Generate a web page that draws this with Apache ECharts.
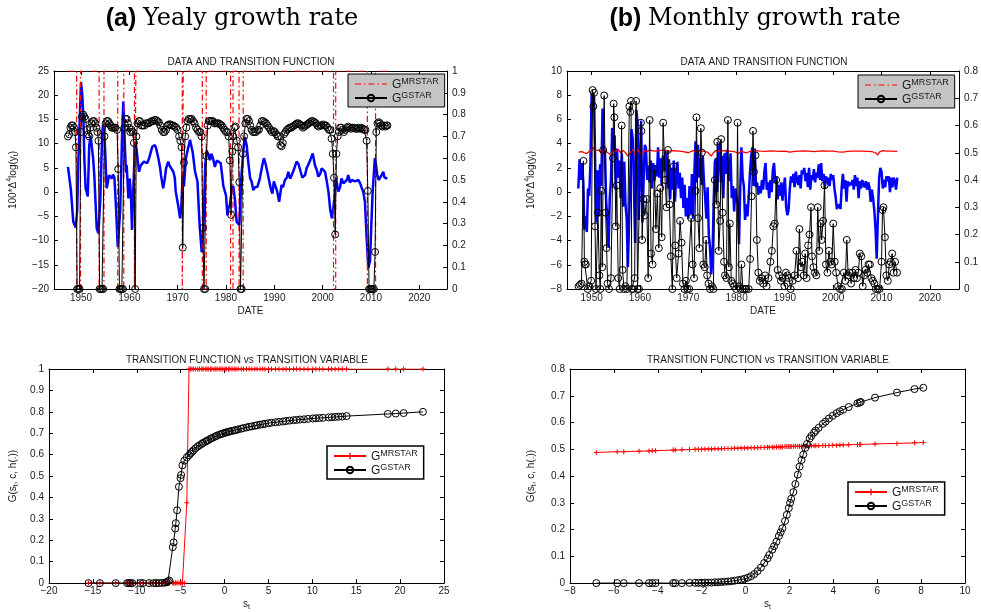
<!DOCTYPE html>
<html><head><meta charset="utf-8">
<script src="https://cdn.jsdelivr.net/npm/echarts@6/dist/echarts.min.js"></script>
<style>html,body{margin:0;padding:0;background:#fff}#c{width:981px;height:612px}</style>
</head><body><div id="c"></div>
<script>
// ---------------- DATA ----------------
const yearTicks = [1950,1960,1970,1980,1990,2000,2010,2020];

// (a) yearly growth: blue line (date, value)
const dateA = [1947.3,1947.5,1947.9,1948.4,1948.9,1949.2,1949.45,1949.7,1950.0,1950.25,1950.5,1950.7,1950.95,1951.2,1951.4,1951.7,1952.0,1952.2,1952.5,1952.75,1953.0,1953.25,1953.6,1954.0,1954.4,1954.6,1954.8,1955.05,1955.3,1955.55,1955.8,1956.1,1956.35,1956.6,1956.9,1957.25,1957.6,1957.9,1958.1,1958.3,1958.5,1958.75,1959.1,1959.3,1959.45,1959.8,1960.1,1960.35,1960.55,1960.8,1961.2,1961.5,1962.0,1962.35,1962.7,1963.0,1963.4,1963.7,1964.1,1964.75,1965.3,1965.6,1966.0,1966.3,1966.55,1967.0,1967.3,1967.6,1968.05,1968.3,1968.6,1969.1,1969.4,1969.6,1970.1,1970.5,1970.75,1971.05,1971.3,1971.7,1972.1,1972.55,1973.1,1973.6,1974.1,1974.5,1974.97,1975.3,1975.7,1976.0,1976.3,1976.7,1977.0,1977.35,1977.7,1978.1,1978.4,1978.9,1979.2,1979.45,1980.0,1980.3,1980.5,1980.8,1981.2,1981.5,1981.85,1982.2,1982.45,1982.75,1983.2,1983.6,1983.9,1984.3,1984.6,1985.0,1985.3,1985.65,1986.0,1986.5,1987.0,1987.5,1987.85,1988.2,1988.55,1989.0,1989.25,1989.6,1989.9,1990.3,1990.6,1991.0,1991.2,1991.5,1991.8,1992.2,1992.6,1992.9,1993.3,1993.6,1994.0,1994.6,1995.0,1995.45,1995.8,1996.35,1996.7,1997.0,1997.5,1997.95,1998.4,1998.8,1999.1,1999.5,1999.8,2000.2,2000.5,2000.8,2001.2,2001.55,2001.9,2002.2,2002.5,2002.75,2003.0,2003.25,2003.6,2003.9,2004.3,2004.6,2005.0,2005.3,2005.65,2006.0,2006.35,2006.7,2007.0,2007.4,2007.75,2008.1,2008.4,2008.75,2009.1,2009.45,2009.8,2010.1,2010.35,2010.8,2011.05,2011.3,2011.6,2011.85,2012.2,2012.55,2012.8,2013.05,2013.4];
const growthA = [5.2,5.6,0.5,-6.1,-7.3,-4.0,6.0,14.0,22.7,20.3,15.2,6.6,0.8,0.9,-0.9,9.7,11.5,11.8,7.0,3.5,-2.0,-7.5,-8.5,-1.3,12.5,14.1,12.8,7.3,0.8,2.0,3.5,3.2,2.8,3.6,3.1,-3.3,-11.3,-11.6,-4.0,3.5,12.0,18.7,9.0,4.0,5.6,-1.3,2.8,-1.3,-7.8,0.1,10.4,8.7,4.2,5.5,5.6,6.3,6.3,6.0,7.0,9.4,9.7,8.8,7.0,5.5,3.5,0.8,2.5,4.9,6.3,5.5,5.2,4.2,3.0,0.1,-2.7,-5.4,-3.0,3.5,1.2,7.0,8.8,10.8,8.3,4.2,2.2,-6.1,-12.4,-8.0,5.6,8.6,8.3,6.6,7.9,6.8,5.2,6.5,6.3,6.0,3.5,1.3,-0.7,-4.8,-3.4,-2.7,0.6,1.3,-1.5,-6.1,-6.5,-6.8,3.5,8.6,11.4,9.5,6.3,2.8,2.2,0.4,1.0,1.1,2.8,5.5,7.0,5.8,4.2,2.0,0.8,-0.3,2.2,1.0,0.1,-2.0,-2.3,1.5,1.0,2.5,3.0,4.2,2.8,3.5,4.5,6.3,5.8,4.2,3.0,3.5,5.0,5.6,6.8,8.0,5.6,4.5,3.2,3.8,4.9,4.5,4.2,2.5,0.1,-3.5,-5.4,-3.4,-0.5,2.8,1.5,0.1,1.0,2.8,1.8,1.5,2.5,3.5,2.0,2.5,2.8,2.2,2.0,2.5,1.8,2.2,0.0,-2.0,-9.5,-15.6,-14.2,-6.0,0.1,7.0,5.5,3.5,2.5,2.8,3.5,4.2,3.0,2.8,2.8];

// (a) G^MRSTAR (0/1 regime) transition points
const mrA_dates = [1947.3,1949.1,1949.1,1949.9,1949.9,1953.75,1953.75,1954.75,1954.75,1957.6,1957.6,1958.85,1958.85,1961.05,1961.05,1961.35,1961.35,1970.95,1970.95,1971.15,1971.15,1975.1,1975.1,1975.9,1975.9,1980.95,1980.95,1981.45,1981.45,1982.7,1982.7,1983.55,1983.55,2002.25,2002.25,2002.7,2002.7,2009.25,2009.25,2010.95,2010.95,2013.4];
const mrA_vals = [1,1,0,0,1,1,0,0,1,1,0,0,1,1,0,0,1,1,0,0,1,1,0,0,1,1,0,0,1,1,0,0,1,1,0,0,1,1,0,0,1,1];

// (a) G^GSTAR
const gA_dates = [1947.3,1947.55,1947.8,1948.05,1948.3,1948.55,1948.75,1948.95,1949.2,1949.45,1949.7,1949.95,1950.2,1950.45,1950.7,1950.95,1951.2,1951.45,1951.7,1951.95,1952.2,1952.45,1952.7,1952.95,1953.2,1953.4,1953.6,1953.85,1954.1,1954.35,1954.6,1954.85,1955.1,1955.35,1955.6,1955.85,1956.1,1956.35,1956.6,1956.85,1957.1,1957.45,1957.7,1957.95,1958.2,1958.45,1958.7,1958.95,1959.2,1959.45,1959.7,1959.95,1960.2,1960.45,1960.7,1960.95,1961.2,1961.45,1961.7,1961.95,1962.2,1962.5,1962.8,1963.1,1963.4,1963.7,1964.0,1964.3,1964.6,1964.9,1965.2,1965.5,1965.8,1966.1,1966.4,1966.7,1967.0,1967.3,1967.6,1967.9,1968.2,1968.5,1968.8,1969.1,1969.4,1969.7,1970.0,1970.3,1970.55,1970.8,1971.05,1971.3,1971.55,1971.8,1972.05,1972.3,1972.6,1972.9,1973.2,1973.5,1973.8,1974.1,1974.4,1974.7,1974.95,1975.2,1975.45,1975.7,1975.95,1976.2,1976.45,1976.7,1977.0,1977.3,1977.6,1977.9,1978.2,1978.5,1978.8,1979.1,1979.4,1979.7,1980.0,1980.3,1980.55,1980.8,1981.05,1981.3,1981.5,1981.75,1982.0,1982.25,1982.5,1982.75,1983.0,1983.25,1983.5,1983.75,1984.0,1984.25,1984.5,1984.75,1985.0,1985.3,1985.6,1985.9,1986.2,1986.5,1986.8,1987.1,1987.4,1987.7,1988.0,1988.3,1988.6,1988.9,1989.2,1989.5,1989.8,1990.1,1990.4,1990.7,1991.0,1991.25,1991.5,1991.75,1992.0,1992.3,1992.6,1992.9,1993.2,1993.5,1993.8,1994.1,1994.4,1994.7,1995.0,1995.3,1995.6,1995.9,1996.2,1996.5,1996.8,1997.1,1997.4,1997.7,1998.0,1998.3,1998.6,1998.9,1999.2,1999.5,1999.8,2000.1,2000.4,2000.7,2001.0,2001.3,2001.6,2001.85,2002.1,2002.35,2002.6,2002.85,2003.1,2003.35,2003.6,2003.85,2004.1,2004.4,2004.7,2005.0,2005.3,2005.6,2005.9,2006.2,2006.5,2006.8,2007.1,2007.4,2007.7,2008.0,2008.3,2008.6,2008.85,2009.1,2009.35,2009.6,2009.85,2010.1,2010.35,2010.6,2010.85,2011.1,2011.35,2011.6,2011.85,2012.1,2012.4,2012.7,2013.0,2013.25,2013.4];
const gA_vals = [0.70,0.71,0.74,0.75,0.75,0.74,0.72,0.65,0,0,0,0.72,0.79,0.80,0.79,0.78,0.73,0.71,0.70,0.74,0.76,0.77,0.77,0.76,0.74,0.72,0.68,0,0,0,0,0.70,0.76,0.77,0.77,0.76,0.75,0.74,0.74,0.74,0.74,0.73,0.55,0,0,0,0,0.74,0.78,0.78,0.76,0.74,0.72,0.73,0.72,0.67,0,0.70,0.76,0.77,0.77,0.75,0.75,0.75,0.76,0.76,0.76,0.765,0.77,0.77,0.775,0.775,0.77,0.765,0.75,0.73,0.72,0.72,0.73,0.75,0.755,0.755,0.75,0.75,0.745,0.74,0.73,0.70,0.68,0.65,0.19,0.58,0.70,0.74,0.77,0.78,0.78,0.78,0.77,0.76,0.74,0.73,0.72,0.72,0.70,0.28,0,0,0.61,0.75,0.77,0.77,0.77,0.77,0.76,0.76,0.76,0.76,0.755,0.75,0.74,0.73,0.72,0.72,0.70,0.59,0.34,0.63,0.70,0.74,0.745,0.68,0.65,0.49,0,0,0.62,0.70,0.76,0.78,0.78,0.77,0.75,0.73,0.72,0.72,0.72,0.73,0.73,0.75,0.77,0.77,0.765,0.76,0.75,0.74,0.73,0.72,0.725,0.72,0.71,0.70,0.70,0.66,0.655,0.67,0.71,0.72,0.73,0.735,0.74,0.74,0.745,0.75,0.755,0.76,0.76,0.755,0.75,0.74,0.745,0.75,0.755,0.76,0.765,0.77,0.77,0.765,0.76,0.75,0.745,0.75,0.75,0.755,0.75,0.75,0.74,0.73,0.73,0.69,0.62,0.51,0.25,0.62,0.70,0.72,0.74,0.74,0.73,0.72,0.73,0.74,0.745,0.74,0.735,0.74,0.74,0.735,0.735,0.74,0.735,0.74,0.735,0.73,0.73,0.68,0.45,0,0,0,0,0,0.17,0.72,0.76,0.765,0.76,0.75,0.745,0.75,0.745,0.75,0.75];

// (b) monthly growth: blue line, quarterly from 1947.25
const startB = 1947.25;
const growthB = [0.3,2.7,1.0,2.4, 0.9,-3.1,-2.0,-3.3, 0.3,-0.3,2.4,8.1, 7.5,7.9,2.0,-2.5, 1.8,-2.0,2.3,0.5, 6.9,3.2,3.5,-0.7, -2.3,-4.6,-0.5,1.0, 5.3,3.5,4.7,0.2, 3.6,1.2,2.6,-0.5, 3.2,-1.2,2.5,-1.0, -2.2,-6.2,-2.5,1.0, 5.2,4.4,0.5,-4.2, 6.8,5.8,-2.3,2.6, 5.9,-2.5,0.8,3.9, 3.6,1.0,2.2,0.8, 2.6,0.3,2.4,0.9, 2.2,1.3,3.7,1.2, 2.8,0.5,3.0,1.7, 3.5,2.0,0.3,2.7, -0.6,2.0,0.2,2.6, -0.8,1.4,2.5,0.3, 1.6,-0.5,1.2,-1.3, 0.6,-2.0,-0.5,-2.2, 0.5,-1.8,1.5,-2.2, 1.5,4.2,0.8,3.9, 1.2,2.8,0.6,3.0, 0.8,-0.5,-2.2,0.4, -3.5,-4.6,-6.8,-5.5, -1.0,2.5,2.8,0.0, 3.0,4.1,0.8,3.0, -0.5,3.2,1.5,3.5, 2.0,0.9,3.2,-0.5, 0.5,-1.6,0.3,0.4, -1.0,-4.3,0.2,3.7, 1.2,0.5,-2.3,-1.0, -2.0,-0.5,1.5,2.9, 3.7,0.5,3.6,0.4, 0.8,-0.2,0.5,-0.1, 1.0,0.2,1.7,2.4, 0.2,0.8,-0.5,1.0, 0.0,1.8,2.4,0.8, 1.3,-0.6,0.6,-0.3, 0.8,-0.7,0.4,1.2, -1.2,-1.9,-1.5,0.2, 1.3,0.8,1.5,0.4, 1.7,1.0,0.6,1.4, 0.3,1.8,1.5,2.0, 0.9,1.6,0.4,2.0, 0.2,1.4,1.0,1.9, 0.8,1.6,1.2,2.3, 1.0,2.4,0.9,1.5, 0.3,1.3,0.8,1.2, 0.5,1.5,1.0,1.4, 0.3,-0.4,-1.4,-1.4, -1.0,-1.4,0.4,1.5, 0.3,1.0,-0.8,0.9, 0.5,0.8,0.6,1.0, 0.2,1.4,0.5,1.2, -0.5,0.9,0.3,1.0, 0.6,0.4,0.9,0.2, 0.8,0.4,-0.8,0.2, -0.5,-1.5,-3.0,-5.5, -2.0,1.2,2.0,1.7, 0.3,1.0,0.4,1.3, 0.9,1.3,0.0,1.2, 0.4,1.2,0.9,0.2, 1.2];

// (b) G^MRSTAR
const mrB_dates = [1947.3,1948.0,1948.5,1949.0,1949.5,1950.0,1950.3,1950.6,1951.0,1951.5,1952.0,1952.5,1953.0,1953.5,1954.0,1954.5,1955.0,1955.5,1956.0,1956.5,1957.0,1957.5,1958.0,1958.5,1959.0,1959.5,1960.0,1960.5,1961.0,1961.5,1962.0,1963.0,1964.0,1965.0,1966.0,1967.0,1968.0,1969.0,1970.0,1971.0,1971.5,1972.0,1973.0,1974.0,1974.75,1975.2,1975.7,1976.5,1977.5,1978.5,1979.5,1980.5,1981.0,1981.5,1982.0,1983.0,1984.0,1985.0,1986.0,1987.0,1988.0,1989.0,1990.0,1991.0,1992.0,1993.0,1994.0,1995.0,1996.0,1997.0,1998.0,1999.0,2000.0,2001.0,2002.0,2003.0,2004.0,2005.0,2006.0,2007.0,2008.0,2008.75,2009.2,2009.6,2010.3,2011.0,2012.0,2013.25];
const mrB_vals = [0.502,0.504,0.500,0.497,0.505,0.512,0.520,0.508,0.502,0.510,0.498,0.512,0.505,0.498,0.492,0.510,0.505,0.512,0.500,0.508,0.500,0.488,0.500,0.512,0.495,0.512,0.500,0.496,0.508,0.505,0.510,0.506,0.508,0.510,0.506,0.508,0.506,0.504,0.500,0.508,0.502,0.508,0.506,0.502,0.488,0.500,0.508,0.506,0.508,0.506,0.504,0.498,0.507,0.502,0.500,0.506,0.508,0.506,0.505,0.507,0.506,0.505,0.506,0.502,0.505,0.506,0.507,0.506,0.504,0.506,0.507,0.506,0.506,0.503,0.502,0.505,0.506,0.506,0.506,0.505,0.504,0.500,0.492,0.503,0.508,0.506,0.506,0.505];

// (b) G^GSTAR
const gB_dates = [1947.3,1947.6,1947.9,1948.3,1948.5,1948.6,1948.8,1949.2,1949.5,1949.9,1950.2,1950.35,1950.5,1950.7,1950.9,1951.3,1951.6,1951.8,1952.0,1952.2,1952.4,1952.6,1952.9,1953.1,1953.3,1953.6,1954.0,1954.4,1954.55,1954.7,1955.0,1955.2,1955.5,1955.8,1956.2,1956.4,1956.7,1957.0,1957.3,1957.8,1958.0,1958.15,1958.3,1958.6,1958.9,1959.2,1959.5,1959.8,1960.2,1960.3,1960.45,1960.7,1961.0,1961.4,1961.7,1962.0,1962.3,1962.6,1963.0,1963.3,1963.6,1963.9,1964.2,1964.5,1964.8,1965.2,1965.5,1965.8,1966.1,1966.4,1966.7,1967.0,1967.3,1967.6,1968.0,1968.3,1968.6,1968.9,1969.2,1969.5,1969.8,1970.2,1970.6,1970.9,1971.2,1971.5,1971.7,1972.0,1972.3,1972.6,1972.8,1973.1,1973.4,1973.7,1973.9,1974.2,1974.5,1974.9,1975.2,1975.5,1975.8,1976.0,1976.3,1976.6,1976.8,1977.1,1977.4,1977.6,1977.9,1978.2,1978.4,1978.6,1978.9,1979.2,1979.5,1979.9,1980.2,1980.5,1980.8,1981.0,1981.3,1981.7,1982.0,1982.5,1982.8,1983.1,1983.4,1983.6,1983.9,1984.2,1984.5,1984.8,1985.1,1985.5,1985.9,1986.2,1986.6,1987.0,1987.3,1987.6,1987.9,1988.2,1988.5,1988.8,1989.2,1989.5,1989.9,1990.2,1990.5,1990.8,1991.2,1991.6,1992.0,1992.4,1992.7,1993.0,1993.3,1993.6,1993.9,1994.2,1994.5,1994.8,1995.1,1995.4,1995.6,1995.9,1996.2,1996.5,1996.8,1997.1,1997.4,1997.6,1997.9,1998.2,1998.5,1998.8,1999.1,1999.4,1999.7,2000.0,2000.3,2000.6,2001.0,2001.4,2001.8,2002.2,2002.5,2002.8,2003.1,2003.4,2003.7,2004.0,2004.3,2004.6,2004.9,2005.2,2005.5,2005.8,2006.1,2006.4,2006.7,2007.0,2007.3,2007.6,2007.9,2008.2,2008.5,2008.8,2009.2,2009.6,2010.0,2010.2,2010.4,2010.7,2011.0,2011.3,2011.6,2011.9,2012.2,2012.5,2012.8,2013.2];
const gB_vals = [0.01,0.015,0.02,0.47,0.10,0.09,0.09,0,0.01,0.03,0.73,0.67,0.72,0.23,0,0.28,0.05,0,0.36,0.08,0.51,0.71,0.28,0.15,0.02,0,0.04,0.48,0.68,0.63,0.23,0.38,0.04,0,0.60,0.07,0,0.01,0,0.67,0.65,0.69,0,0,0.04,0.69,0,0,0.61,0.58,0.18,0.33,0.27,0.33,0.04,0.62,0.13,0.09,0.44,0.22,0.35,0.15,0.37,0.19,0.61,0.40,0.30,0.51,0.31,0.12,0,0.45,0.16,0.04,0.13,0.25,0.17,0.02,0,0.03,0,0,0.26,0.09,0.04,0.36,0.63,0.26,0.15,0.59,0.50,0.09,0.08,0.18,0.05,0.02,0,0.01,0,0.40,0.31,0.54,0.14,0.25,0.55,0.28,0.10,0.05,0.04,0.62,0.08,0.24,0.03,0.02,0.01,0,0.61,0.01,0,0.09,0,0,0,0,0.11,0.34,0.58,0.43,0.49,0.18,0.06,0.03,0.04,0.02,0.05,0.01,0.04,0.10,0.14,0.23,0.24,0.40,0.07,0.05,0.03,0.04,0.01,0.06,0.05,0.04,0,0.03,0.05,0.14,0.04,0.22,0.08,0.10,0.05,0.13,0.04,0.16,0.20,0.30,0.12,0.08,0.06,0.05,0.30,0.14,0.24,0.18,0.25,0.38,0.09,0.06,0.14,0.10,0.09,0.24,0.10,0.06,0.01,0,0,0.06,0.03,0.18,0.05,0.06,0.02,0.06,0.04,0.07,0.04,0.06,0.13,0.12,0.01,0.05,0.07,0.06,0.09,0.09,0.04,0.03,0.02,0,0,0,0.10,0.29,0.30,0.19,0.05,0.03,0.09,0.10,0.13,0.06,0.10,0.06];

// bottom-left: transition function vs transition variable (yearly)
const sL = [-15.5,-14.2,-12.4,-11.1,-10.9,-10.7,-10.5,-9.6,-9.3,-8.6,-8.1,-7.8,-7.5,-7.1,-6.8,-6.6,-6.45,-6.3,-5.9,-5.8,-5.62,-5.55,-5.4,-5.2,-5.02,-4.95,-4.8,-4.58,-4.3,-4.05,-3.9,-3.72,-3.55,-3.3,-3.05,-2.85,-2.6,-2.45,-2.2,-2.0,-1.85,-1.6,-1.45,-1.2,-1.0,-0.85,-0.6,-0.4,-0.2,0.05,0.2,0.45,0.6,0.85,1.1,1.3,1.55,1.9,2.15,2.5,2.8,3.1,3.45,3.7,4.05,4.35,4.6,5.0,5.35,5.8,6.2,6.65,7.0,7.4,7.85,8.2,8.6,9.05,9.5,10.05,10.4,10.8,11.2,11.85,12.2,12.6,13.0,13.4,13.9,18.6,19.5,20.4,22.6];
const gL = [0,0,0,0,0,0,0,0,0,0,0,0,0,0.001,0.002,0.004,0.008,0.012,0.168,0.19,0.255,0.28,0.34,0.45,0.49,0.505,0.55,0.572,0.587,0.597,0.605,0.613,0.62,0.63,0.638,0.644,0.65,0.655,0.66,0.665,0.668,0.674,0.677,0.682,0.686,0.689,0.693,0.696,0.699,0.702,0.704,0.707,0.708,0.711,0.713,0.715,0.718,0.721,0.724,0.727,0.73,0.732,0.735,0.737,0.74,0.742,0.744,0.747,0.749,0.751,0.753,0.755,0.757,0.759,0.761,0.762,0.764,0.765,0.767,0.769,0.77,0.771,0.772,0.774,0.775,0.776,0.777,0.778,0.78,0.79,0.792,0.794,0.80];
const mrL = [0,0,0,0,0,0,0,0,0,0,0,0,0,0,0,0,0,0,0,0,0,0,0,0,0,0,0,0,0.375,1,1,1,1,1,1,1,1,1,1,1,1,1,1,1,1,1,1,1,1,1,1,1,1,1,1,1,1,1,1,1,1,1,1,1,1,1,1,1,1,1,1,1,1,1,1,1,1,1,1,1,1,1,1,1,1,1,1,1,1,1,1,1,1];

// bottom-right: transition function vs transition variable (monthly)
const sR = [-6.8,-5.85,-5.55,-4.85,-4.4,-4.25,-4.1,-3.3,-3.2,-2.9,-2.55,-2.3,-2.15,-2.0,-1.85,-1.7,-1.55,-1.4,-1.25,-1.1,-0.95,-0.8,-0.65,-0.5,-0.35,-0.2,-0.05,0.1,0.25,0.4,0.55,0.7,0.85,1.0,1.08,1.22,1.3,1.41,1.52,1.6,1.68,1.8,1.88,1.97,2.03,2.08,2.18,2.27,2.38,2.46,2.55,2.63,2.72,2.8,2.92,3.0,3.12,3.2,3.33,3.52,3.64,3.8,3.97,4.15,4.3,4.45,4.7,5.1,5.2,5.25,5.9,6.9,7.7,8.1];
const gR = [0,0,0,0,0,0,0,0,0,0,0.001,0.001,0.001,0.001,0.002,0.002,0.002,0.003,0.003,0.004,0.005,0.006,0.007,0.009,0.011,0.013,0.016,0.02,0.026,0.034,0.045,0.058,0.075,0.092,0.105,0.125,0.138,0.155,0.176,0.19,0.205,0.232,0.255,0.28,0.30,0.315,0.34,0.37,0.405,0.435,0.46,0.48,0.505,0.52,0.54,0.55,0.562,0.57,0.58,0.595,0.603,0.615,0.625,0.635,0.642,0.648,0.658,0.672,0.675,0.677,0.693,0.712,0.725,0.73];
const mrR = [0.488,0.491,0.491,0.493,0.494,0.495,0.495,0.497,0.497,0.498,0.499,0.500,0.500,0.500,0.501,0.501,0.501,0.502,0.502,0.502,0.503,0.503,0.503,0.504,0.504,0.505,0.505,0.505,0.506,0.506,0.506,0.507,0.507,0.508,0.508,0.508,0.508,0.509,0.509,0.509,0.509,0.510,0.510,0.510,0.510,0.510,0.511,0.511,0.511,0.511,0.511,0.512,0.512,0.512,0.512,0.513,0.513,0.513,0.513,0.514,0.514,0.514,0.515,0.515,0.516,0.516,0.517,0.518,0.518,0.518,0.520,0.522,0.524,0.525];

// ---------------- CHART ----------------
const FONT = '"Liberation Sans", Arial, Helvetica, sans-serif';
const TXT = '#1a1a1a';
const zip = (a, b) => a.map((v, i) => [v, b[i]]);
const datesB = growthB.map((_, i) => startB + i * 0.25);
const fmt = v => { const r = Math.round(v * 1000) / 1000; return r < 0 ? '\u2212' + (-r) : String(r); };
const PLUS = 'path://M4,0H6V4H10V6H6V10H4V6H0V4H4Z';

function axis(o) {
  const a = {
    type: 'value', gridIndex: o.g, position: o.pos, min: o.min, max: o.max,
    axisLine: { show: true, onZero: false, lineStyle: { color: '#000', width: 1 } },
    axisTick: { show: true, inside: true, length: 4, lineStyle: { color: '#000', width: 1 } },
    axisLabel: { show: !!o.labels, color: TXT, fontSize: 10, fontFamily: FONT, formatter: fmt, margin: o.margin || 5 },
    splitLine: { show: false }
  };
  if (o.interval != null) a.interval = o.interval;
  if (o.custom) { a.axisTick.customValues = o.custom; a.axisLabel.customValues = o.custom; }
  if (o.name) {
    a.name = o.name; a.nameLocation = 'middle'; a.nameGap = o.nameGap;
    if (o.nameRotate != null) a.nameRotate = o.nameRotate;
    a.nameTextStyle = {
      color: TXT, fontSize: 10, fontFamily: FONT, lineHeight: 14,
      rich: {
        sup: { fontSize: 7, fontFamily: FONT, color: TXT, verticalAlign: 'top', lineHeight: 7 },
        sub: { fontSize: 7, fontFamily: FONT, color: TXT, verticalAlign: 'bottom', lineHeight: 7 }
      }
    };
  }
  return a;
}

const YA = [1944.41, 2025.73], YB = [1944.9, 2026.05];
const xAxis = [
  axis({ g: 0, pos: 'bottom', min: YA[0], max: YA[1], custom: yearTicks, labels: true, margin: 4, name: 'DATE', nameGap: 10 }),
  axis({ g: 0, pos: 'top', min: YA[0], max: YA[1], custom: yearTicks }),
  axis({ g: 1, pos: 'bottom', min: YB[0], max: YB[1], custom: yearTicks, labels: true, margin: 4, name: 'DATE', nameGap: 10 }),
  axis({ g: 1, pos: 'top', min: YB[0], max: YB[1], custom: yearTicks }),
  axis({ g: 2, pos: 'bottom', min: -20, max: 25, interval: 5, labels: true, margin: 3, name: 's{sub|t}', nameGap: 10 }),
  axis({ g: 2, pos: 'top', min: -20, max: 25, interval: 5 }),
  axis({ g: 3, pos: 'bottom', min: -8, max: 10, interval: 2, labels: true, margin: 3, name: 's{sub|t}', nameGap: 10 }),
  axis({ g: 3, pos: 'top', min: -8, max: 10, interval: 2 })
];
const yName = '100*\u0394{sup|4}log(y{sub|t})';
const gName = 'G(s{sub|t}, c, h(.))';
const yAxis = [
  axis({ g: 0, pos: 'left', min: -20, max: 25, interval: 5, labels: true, name: yName, nameGap: 34, nameRotate: 90 }),
  axis({ g: 0, pos: 'right', min: 0, max: 1, interval: 0.1, labels: true }),
  axis({ g: 1, pos: 'left', min: -8, max: 10, interval: 2, labels: true, name: yName, nameGap: 29, nameRotate: 90 }),
  axis({ g: 1, pos: 'right', min: 0, max: 0.8, interval: 0.1, labels: true }),
  axis({ g: 2, pos: 'left', min: 0, max: 1, interval: 0.1, labels: true, name: gName, nameGap: 29, nameRotate: 90 }),
  axis({ g: 2, pos: 'right', min: 0, max: 1, interval: 0.1 }),
  axis({ g: 3, pos: 'left', min: 0, max: 0.8, interval: 0.1, labels: true, name: gName, nameGap: 32, nameRotate: 90 }),
  axis({ g: 3, pos: 'right', min: 0, max: 0.8, interval: 0.1 })
];

const DASHDOT = [6, 3, 1.5, 3];
const circleSeries = (name, xi, yi, data) => ({
  name, type: 'line', xAxisIndex: xi, yAxisIndex: yi, data,
  symbol: 'circle', symbolSize: 7, showSymbol: true,
  itemStyle: { color: 'rgba(0,0,0,0)', borderColor: '#000', borderWidth: 1 },
  lineStyle: { color: '#000', width: 1 }, z: 4
});

const series = [
  { name: 'growthA', type: 'line', xAxisIndex: 0, yAxisIndex: 0, data: zip(dateA, growthA), showSymbol: false, symbol: 'none',
    lineStyle: { color: '#0000ff', width: 2.5 }, itemStyle: { color: '#0000ff' }, z: 2 },
  { name: 'mrA', type: 'line', xAxisIndex: 0, yAxisIndex: 1, data: zip(mrA_dates, mrA_vals), showSymbol: false, symbol: 'none',
    lineStyle: { color: '#ff0000', width: 1.2, type: DASHDOT }, itemStyle: { color: '#ff0000' }, z: 3 },
  circleSeries('gsA', 0, 1, zip(gA_dates, gA_vals)),

  { name: 'growthB', type: 'line', xAxisIndex: 2, yAxisIndex: 2, data: zip(datesB, growthB), showSymbol: false, symbol: 'none',
    lineStyle: { color: '#0000ff', width: 2.5 }, itemStyle: { color: '#0000ff' }, z: 2 },
  { name: 'mrB', type: 'line', xAxisIndex: 2, yAxisIndex: 3, data: zip(mrB_dates, mrB_vals), showSymbol: false, symbol: 'none',
    lineStyle: { color: '#ff0000', width: 1.3 }, itemStyle: { color: '#ff0000' }, z: 3 },
  circleSeries('gsB', 2, 3, zip(gB_dates, gB_vals)),

  { name: 'mrL', type: 'line', xAxisIndex: 4, yAxisIndex: 4, data: zip(sL, mrL), symbol: PLUS, symbolSize: 5, showSymbol: true,
    lineStyle: { color: '#ff0000', width: 1 }, itemStyle: { color: '#ff0000' }, z: 3 },
  circleSeries('gsL', 4, 4, zip(sL, gL)),

  { name: 'mrR', type: 'line', xAxisIndex: 6, yAxisIndex: 6, data: zip(sR, mrR), symbol: PLUS, symbolSize: 5, showSymbol: true,
    lineStyle: { color: '#ff0000', width: 1 }, itemStyle: { color: '#ff0000' }, z: 3 },
  circleSeries('gsR', 6, 6, zip(sR, gR))
];

const legFmt = n => n.indexOf('mr') === 0 ? '{g|G}{s|MRSTAR}' : '{g|G}{s|GSTAR}';
const legText = {
  color: TXT, fontFamily: FONT, fontSize: 12,
  rich: {
    g: { fontSize: 12, fontFamily: FONT, color: TXT, lineHeight: 14, verticalAlign: 'bottom' },
    s: { fontSize: 9, fontFamily: FONT, color: TXT, lineHeight: 9, verticalAlign: 'top' }
  }
};
function legend(names, left, top, bg, bw, mrDash) {
  const first = mrDash
    ? { name: names[0], lineStyle: { type: DASHDOT, color: '#ff0000', width: 1.2 }, itemStyle: { opacity: 0 } }
    : names[0];
  return {
    data: [first, names[1]],
    orient: 'vertical', left, top, itemWidth: 32, itemHeight: 8, itemGap: 0,
    padding: [3, 6, 2, 6], backgroundColor: bg, borderColor: '#000', borderWidth: bw,
    formatter: legFmt, textStyle: legText, selectedMode: false, borderRadius: 0
  };
}

const option = {
  animation: false,
  backgroundColor: '#fff',
  grid: [
    { left: 54, top: 71, width: 393, height: 218 },
    { left: 567, top: 71, width: 393, height: 218 },
    { left: 49, top: 369, width: 395, height: 219 },
    { left: 570, top: 369, width: 395, height: 219 }
  ],
  xAxis, yAxis, series,
  legend: [
    legend(['mrA', 'gsA'], 348, 74, '#c4c4c4', 1, true),
    legend(['mrB', 'gsB'], 858, 75, '#c4c4c4', 1, true),
    legend(['mrL', 'gsL'], 327, 446, '#fff', 1.5, false),
    legend(['mrR', 'gsR'], 848, 482, '#fff', 1.5, false)
  ],
  graphic: [
    { type: 'text', x: 232, y: 19, style: { text: '{b|(a)}  {r|Yealy growth rate}', align: 'center', verticalAlign: 'middle',
      rich: { b: { fontFamily: FONT, fontWeight: 'bold', fontSize: 25, fill: '#000' }, r: { fontFamily: '"DejaVu Serif", serif', fontSize: 24, fill: '#000' } } } },
    { type: 'text', x: 755, y: 19, style: { text: '{b|(b)}  {r|Monthly growth rate}', align: 'center', verticalAlign: 'middle',
      rich: { b: { fontFamily: FONT, fontWeight: 'bold', fontSize: 25, fill: '#000' }, r: { fontFamily: '"DejaVu Serif", serif', fontSize: 24, fill: '#000' } } } },
    { type: 'text', x: 251, y: 62, style: { text: 'DATA AND TRANSITION FUNCTION', align: 'center', verticalAlign: 'middle', fontFamily: FONT, fontSize: 10, fill: TXT } },
    { type: 'text', x: 764, y: 62, style: { text: 'DATA AND TRANSITION FUNCTION', align: 'center', verticalAlign: 'middle', fontFamily: FONT, fontSize: 10, fill: TXT } },
    { type: 'text', x: 247, y: 360, style: { text: 'TRANSITION FUNCTION vs TRANSITION VARIABLE', align: 'center', verticalAlign: 'middle', fontFamily: FONT, fontSize: 10, fill: TXT } },
    { type: 'text', x: 768, y: 360, style: { text: 'TRANSITION FUNCTION vs TRANSITION VARIABLE', align: 'center', verticalAlign: 'middle', fontFamily: FONT, fontSize: 10, fill: TXT } }
  ]
};

const chart = echarts.init(document.getElementById('c'), null, { renderer: 'canvas' });
chart.setOption(option);
</script>
</body></html>
